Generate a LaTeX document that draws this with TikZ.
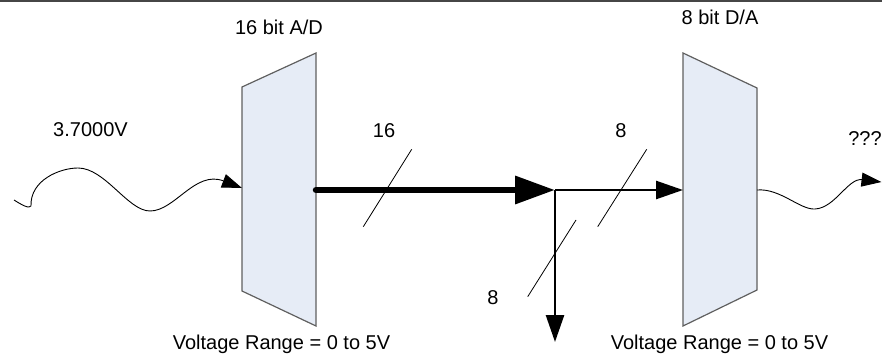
\documentclass[tikz,border=0pt]{standalone}
\usepackage{fontspec}
\setmainfont{Liberation Sans}
\usetikzlibrary{arrows.meta}
\definecolor{boxfill}{RGB}{230,236,246}
\definecolor{boxline}{RGB}{95,95,95}
\definecolor{topline}{RGB}{70,70,70}
\begin{document}
\begin{tikzpicture}[x=1pt,y=-1pt,
  lbl/.style={font=\fontsize{20}{24}\selectfont, anchor=base, inner sep=0pt},
  conv/.style={fill=boxfill, draw=boxline, line width=1.2pt, line join=miter},
  slash/.style={line width=0.8pt},
  wave/.style={line width=0.9pt, -{Triangle[length=20pt,width=14pt]}},
  bus/.style={line width=2.6pt, -{Triangle[length=27pt,width=18pt]}}]
\useasboundingbox (0,0) rectangle (882,355);
% top rule
\draw[topline, line width=1.8pt] (0,1.2) -- (882,1.2);
% converters
\draw[conv] (242,87) -- (316,53) -- (316,326) -- (242,291) -- cycle;
\draw[conv] (683,53) -- (757,88) -- (757,290) -- (683,326) -- cycle;
% connection points
\coordinate (src) at (14,200);
\coordinate (adin) at (242,188);
\coordinate (adout) at (316,190);
\coordinate (j) at (555,190);
\coordinate (dain) at (683,190);
\coordinate (daout) at (757,190);
\coordinate (dst) at (881.5,182);
\coordinate (down) at (555,342);
% input wave
\draw[wave] (src) .. controls (22,205) and (29,209) .. (31,206)
  .. controls (30,180) and (60,168) .. (78,168)
  .. controls (105,168) and (128,211) .. (150,211)
  .. controls (175,211) and (195,170) .. (adin);
% output wave
\draw[wave] (daout) .. controls (780,188) and (800,210) .. (815,209)
  .. controls (835,208) and (848,178) .. (dst);
% thick 16-bit bus
\draw[line width=6.5pt, line cap=round, -{Triangle[length=40pt,width=27pt]}] (adout) -- (j);
% 8-bit branches
\draw[bus] (j) -- (dain);
\draw[bus] (j) -- (down);
% bus width slashes
\draw[slash] (411.7,149.3) -- (363.3,226.7);
\draw[slash] (646.7,149.3) -- (597.7,226.7);
\draw[slash] (576,220) -- (527.7,296.7);
% labels
\node[lbl] (tad) at (279,35) {16 bit A/D};
\node[lbl] (tda) at (720,25) {8 bit D/A};
\node[lbl] (tin) at (90.5,137) {3.7000V};
\node[lbl] (t16) at (384,138) {16};
\node[lbl] (t8a) at (621,138) {8};
\node[lbl] (t8b) at (493,304) {8};
\node[lbl] (tout) at (865,146) {???};
\node[lbl] (vr1) at (281.5,349) {Voltage Range = 0 to 5V};
\node[lbl] (vr2) at (719.5,349) {Voltage Range = 0 to 5V};
\end{tikzpicture}
\end{document}
